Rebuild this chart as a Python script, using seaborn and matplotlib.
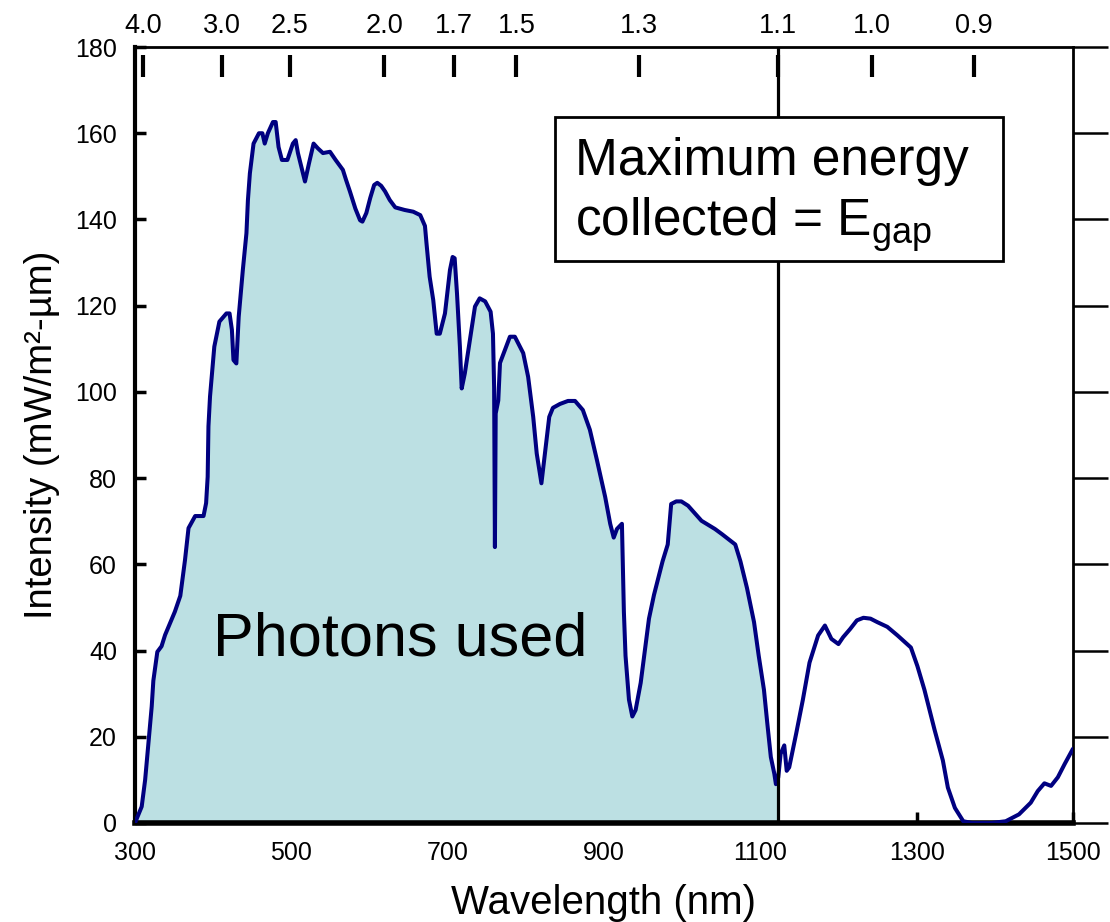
import numpy as np
import pandas as pd
import matplotlib
matplotlib.use("Agg")
import matplotlib.pyplot as plt
from matplotlib.patches import Rectangle
import seaborn as sns

# ---- data ----
wavelength_nm = [300, 308.6, 313, 318, 321.4, 323.5, 328.6, 334, 338.5, 345, 351, 358, 364, 368.5,
                 377, 387.7, 391, 393, 394, 396, 401.5, 408, 417, 421, 424, 426, 429.7, 432.7, 438,
                 442.6, 444.5, 447, 451.7, 458.6, 463, 466, 470, 476.5, 480, 483.7, 488, 495, 502,
                 505.6, 508.5, 515, 517.5, 522.6, 528.5, 534, 540.5, 549.5, 556.7, 566, 570, 575,
                 582, 588, 591, 596, 601, 606, 610, 615, 620, 626, 633, 645, 656, 665, 671, 673,
                 677, 681.6, 686, 690, 696.6, 703, 706.4, 709, 712, 715.7, 718, 722, 728.5, 735,
                 741, 748, 755, 758, 759.5, 760.5, 761.5, 764.8, 767, 779.7, 786, 796.7, 803,
                 809.5, 814, 820, 824.5, 830, 834.7, 843.7, 854, 863, 873, 882, 891, 901.6, 908,
                 912.5, 916.6, 923, 925.5, 927.6, 932, 936.3, 940.5, 947, 957.6, 964, 975, 981.6,
                 986, 992.5, 999, 1007.6, 1024.8, 1042, 1051, 1068, 1074.6, 1083, 1092, 1098,
                 1104.7, 1109, 1113.5, 1118, 1120, 1123, 1126, 1130.7, 1133.8, 1137, 1146, 1154.5,
                 1163, 1174, 1182.7, 1191, 1200, 1206, 1215, 1223.6, 1232, 1241, 1249.6, 1262.5,
                 1275.6, 1292.7, 1301, 1310, 1323, 1333.6, 1340, 1349, 1359.7, 1371, 1396, 1414,
                 1431, 1446, 1455, 1463.5, 1472, 1480.7, 1489.5, 1500]
intensity = [0, 3.8, 10, 20, 27, 33, 39.7, 41, 43.6, 46.4, 49, 52.7, 61, 68.4,
             71.2, 71.2, 74.2, 80.3, 92, 98.9, 110.5, 116.3, 118.2, 118.2, 114.4, 107.4, 106.6, 117.4, 128.3,
             136.8, 144.5, 150.7, 157.6, 160, 160, 157.6, 160, 162.6, 162.6, 156.8, 153.8, 153.8, 157.6,
             158.4, 155.4, 150.7, 148.8, 153, 157.6, 156.5, 155.4, 155.7, 153.8, 151.5, 149.2, 146.5,
             142.5, 139.8, 139.5, 141.5, 145, 148, 148.5, 147.8, 146.5, 144.5, 142.8, 142.2, 141.8, 141, 138.5, 134.4,
             126.7, 121.3, 113.5, 113.5, 118.2, 128.3, 131.3, 131, 122.8, 110.5, 100.8, 104.3, 112, 119.8,
             121.7, 121, 118.6, 113.5, 101, 64, 95, 98, 106.7, 112.8, 112.8, 109, 103.5,
             94.2, 85.7, 78.8, 85.8, 94.2, 96.3, 97.2, 97.9, 97.9, 95.8, 91.2, 84.2, 75.6, 69.4,
             66.2, 68.2, 69.4, 49, 38.8, 28.6, 24.7, 26.2, 32.5, 47.4, 52.9, 60.7, 64.6,
             74, 74.6, 74.6, 73.6, 70.1, 68.2, 67, 64.6, 60.7, 54.5, 46.6, 38.8,
             30.9, 23.1, 15.3, 11.4, 9, 10.6, 16, 18, 12.1, 12.9, 20.8, 28.6,
             37.2, 43.5, 45.8, 42.7, 41.5, 43.1, 45, 47, 47.6, 47.4, 46.6, 45.5,
             43.5, 40.7, 36.4, 30.9, 21.6, 14.5, 8.2, 3.5, 0.4, 0, 0, 0.4,
             2, 4.7, 7.4, 9.2, 8.6, 10.6, 13.7, 17.2]

x_ticks = [300, 500, 700, 900, 1100, 1300, 1500]
y_ticks = [0, 20, 40, 60, 80, 100, 120, 140, 160, 180]
top_tick_nm = [310, 411, 498, 619, 708, 788, 945, 1123, 1243, 1373]
top_tick_labels = ["4.0", "3.0", "2.5", "2.0", "1.7", "1.5", "1.3", "1.1", "1.0", "0.9"]
cutoff_nm = 1123

df = pd.DataFrame({"wl": wavelength_nm, "I": intensity})

# ---- style ----
sns.set_style("ticks", {"axes.edgecolor": "black", "xtick.color": "black",
                        "ytick.color": "black", "text.color": "black",
                        "axes.labelcolor": "black"})
plt.rcParams["font.family"] = ["Liberation Sans", "DejaVu Sans"]
plt.rcParams["mathtext.fontset"] = "custom"
plt.rcParams["mathtext.rm"] = "Liberation Sans"
plt.rcParams["mathtext.it"] = "Liberation Sans:italic"
plt.rcParams["mathtext.bf"] = "Liberation Sans:bold"

fig = plt.figure(figsize=(11.1, 9.22), dpi=100)
ax = fig.add_axes([0.1216, 0.1074, 0.8450, 0.8416])

wl = np.array(wavelength_nm)
ax.fill_between(df["wl"], df["I"], where=wl <= cutoff_nm, color="#BCE0E3", lw=0, zorder=1)
sns.lineplot(data=df, x="wl", y="I", ax=ax, color="#000080", lw=2.9,
             estimator=None, sort=False, zorder=3)
ax.axvline(cutoff_nm, color="black", lw=2.3, zorder=4)

ax.set_xlim(300, 1500)
ax.set_ylim(0, 180)
ax.set_xticks(x_ticks)
ax.set_yticks(y_ticks)
ax.tick_params(direction="in", length=8, width=2.5, labelsize=18, top=False, right=False)
ax.tick_params(axis="x", pad=13)
ax.tick_params(axis="y", pad=13)
ax.spines["left"].set_linewidth(3)
ax.spines["bottom"].set_linewidth(4)
ax.spines["top"].set_linewidth(2)
ax.spines["right"].set_linewidth(2)
ax.set_xlabel("Wavelength (nm)", fontsize=29, labelpad=14)
ax.set_ylabel("Intensity (mW/m²-µm)", fontsize=27.5, labelpad=11)

# right: outward ticks without labels
axR = ax.twinx()
axR.set_ylim(0, 180)
axR.set_yticks(y_ticks)
axR.tick_params(direction="out", length=25, width=1.8, labelright=False)
for s in axR.spines.values():
    s.set_visible(False)

# top: photon energy ticks (eV), floating slightly below the frame
axT = ax.twiny()
axT.set_xlim(300, 1500)
axT.set_xticks(top_tick_nm)
axT.set_xticklabels(top_tick_labels)
axT.spines["top"].set_position(("outward", -6))
axT.tick_params(direction="in", length=16, width=3, labelsize=19.5, pad=12)
for s in axT.spines.values():
    s.set_visible(False)

# annotation box
ax.add_patch(Rectangle((0.4478, 0.7242), 0.4776, 0.186, transform=ax.transAxes,
                       fc="white", ec="black", lw=2, zorder=9))
ax.text(0.469, 0.835, "Maximum energy", transform=ax.transAxes, fontsize=37,
        ha="left", va="baseline", zorder=10)
ax.text(0.469, 0.7565, "collected = E$_{\\mathrm{gap}}$", transform=ax.transAxes, fontsize=37,
        ha="left", va="baseline", zorder=10)
ax.text(0.083, 0.236, "Photons used", transform=ax.transAxes, fontsize=44,
        ha="left", va="center", zorder=5)

fig.savefig("out.png", dpi=100)
